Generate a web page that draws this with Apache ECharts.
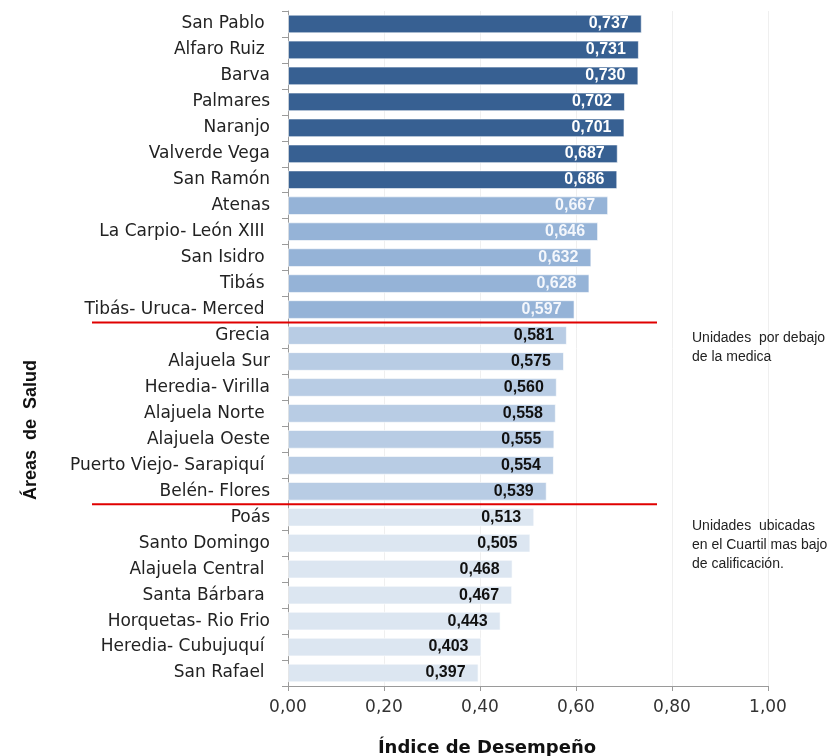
<!DOCTYPE html>
<html>
<head>
<meta charset="utf-8">
<script src="https://cdn.jsdelivr.net/npm/echarts@6/dist/echarts.min.js"></script>
<style>
  html, body { margin: 0; padding: 0; background: #fff; }
  #chart { width: 833px; height: 756px; }
</style>
</head>
<body>
<div id="chart"></div>
<script>
// Health areas, ranked from the highest performance index to the lowest
const areas = [
  'San Pablo ', 'Alfaro Ruiz ', 'Barva', 'Palmares', 'Naranjo', 'Valverde Vega', 'San Ramón',
  'Atenas', 'La Carpio- León XIII ', 'San Isidro ', 'Tibás ', 'Tibás- Uruca- Merced ',
  'Grecia', 'Alajuela Sur', 'Heredia- Virilla', 'Alajuela Norte ', 'Alajuela Oeste',
  'Puerto Viejo- Sarapiquí ', 'Belén- Flores',
  'Poás', 'Santo Domingo', 'Alajuela Central ', 'Santa Bárbara ', 'Horquetas- Rio Frio',
  'Heredia- Cubujuquí ', 'San Rafael '
];
const indexValues = [
  0.737, 0.731, 0.730, 0.702, 0.701, 0.687, 0.686,
  0.667, 0.646, 0.632, 0.628, 0.597,
  0.581, 0.575, 0.560, 0.558, 0.555, 0.554, 0.539,
  0.513, 0.505, 0.468, 0.467, 0.443, 0.403, 0.397
];
// Performance group of each area (0 = top, 3 = lowest quartile)
const groups = [
  0, 0, 0, 0, 0, 0, 0,
  1, 1, 1, 1, 1,
  2, 2, 2, 2, 2, 2, 2,
  3, 3, 3, 3, 3, 3, 3
];
const groupColors = ['#376092', '#95B3D7', '#B8CCE4', '#DCE6F1'];
const labelColors = ['#ffffff', '#f4f7fc', '#111111', '#111111'];
const xTitle = 'Índice de Desempeño';
const yTitle = 'Áreas  de  Salud';
const noteBelowMedian = 'Unidades  por debajo\nde la medica';
const noteLowQuartile = 'Unidades  ubicadas\nen el Cuartil mas bajo\nde calificación.';

const chart = echarts.init(document.getElementById('chart'));

const barData = indexValues.map((v, i) => ({
  value: v,
  itemStyle: { color: groupColors[groups[i]], borderColor: 'rgba(255,255,255,0.6)', borderWidth: 1 },
  label: { color: labelColors[groups[i]] }
}));

chart.setOption({
  animation: false,
  grid: { left: 288, right: 65, top: 11, bottom: 70 },
  xAxis: {
    type: 'value',
    min: 0, max: 1, interval: 0.2,
    axisLine: { show: true, lineStyle: { color: '#9a9a9a' } },
    axisTick: { show: true, length: 5, lineStyle: { color: '#9a9a9a' } },
    splitLine: { show: true, lineStyle: { color: '#efefef' } },
    axisLabel: {
      fontFamily: 'DejaVu Sans', fontSize: 17, color: '#333', margin: 13,
      formatter: v => v.toFixed(2).replace('.', ',')
    }
  },
  yAxis: {
    type: 'category',
    data: areas,
    inverse: true,
    axisLine: { show: true, lineStyle: { color: '#9a9a9a' } },
    axisTick: { show: true, length: 6, lineStyle: { color: '#9a9a9a' } },
    axisLabel: { fontFamily: 'DejaVu Sans', fontSize: 17, color: '#222', margin: 18 }
  },
  series: [{
    type: 'bar',
    data: barData,
    barCategoryGap: '28%',
    label: {
      show: true,
      position: 'insideRight',
      distance: 13,
      fontFamily: 'Liberation Sans, Arial, sans-serif',
      fontWeight: 'bold',
      fontSize: 16,
      formatter: p => p.value.toFixed(3).replace('.', ',')
    }
  }]
});

// Separator lines between groups, placed between neighbouring categories
function boundaryY(i) {
  const a = chart.convertToPixel({ yAxisIndex: 0 }, areas[i]);
  const b = chart.convertToPixel({ yAxisIndex: 0 }, areas[i + 1]);
  return (a + b) / 2;
}
const y1 = boundaryY(11);
const y2 = boundaryY(18);
const noteFont = { fontFamily: 'Liberation Sans, Arial, sans-serif', fontSize: 14, fill: '#222', lineHeight: 19 };

chart.setOption({
  graphic: [
    { type: 'line', shape: { x1: 92, y1: y1, x2: 657, y2: y1 }, style: { stroke: '#e00000', lineWidth: 2 }, z: 10 },
    { type: 'line', shape: { x1: 92, y1: y2, x2: 657, y2: y2 }, style: { stroke: '#e00000', lineWidth: 2 }, z: 10 },
    { type: 'text', left: 692, top: y1 + 6, style: Object.assign({ text: noteBelowMedian }, noteFont) },
    { type: 'text', left: 692, top: y2 + 12, style: Object.assign({ text: noteLowQuartile }, noteFont) },
    {
      type: 'text', x: 31, y: 430, rotation: Math.PI / 2,
      style: {
        text: yTitle, fontFamily: 'Liberation Sans, Arial, sans-serif', fontWeight: 'bold',
        fontSize: 18, fill: '#111', align: 'center', verticalAlign: 'middle'
      }
    },
    {
      type: 'text', x: 487, y: 748,
      style: {
        text: xTitle, fontFamily: 'DejaVu Sans', fontWeight: 'bold',
        fontSize: 18, fill: '#111', align: 'center', verticalAlign: 'middle'
      }
    }
  ]
});
</script>
</body>
</html>
